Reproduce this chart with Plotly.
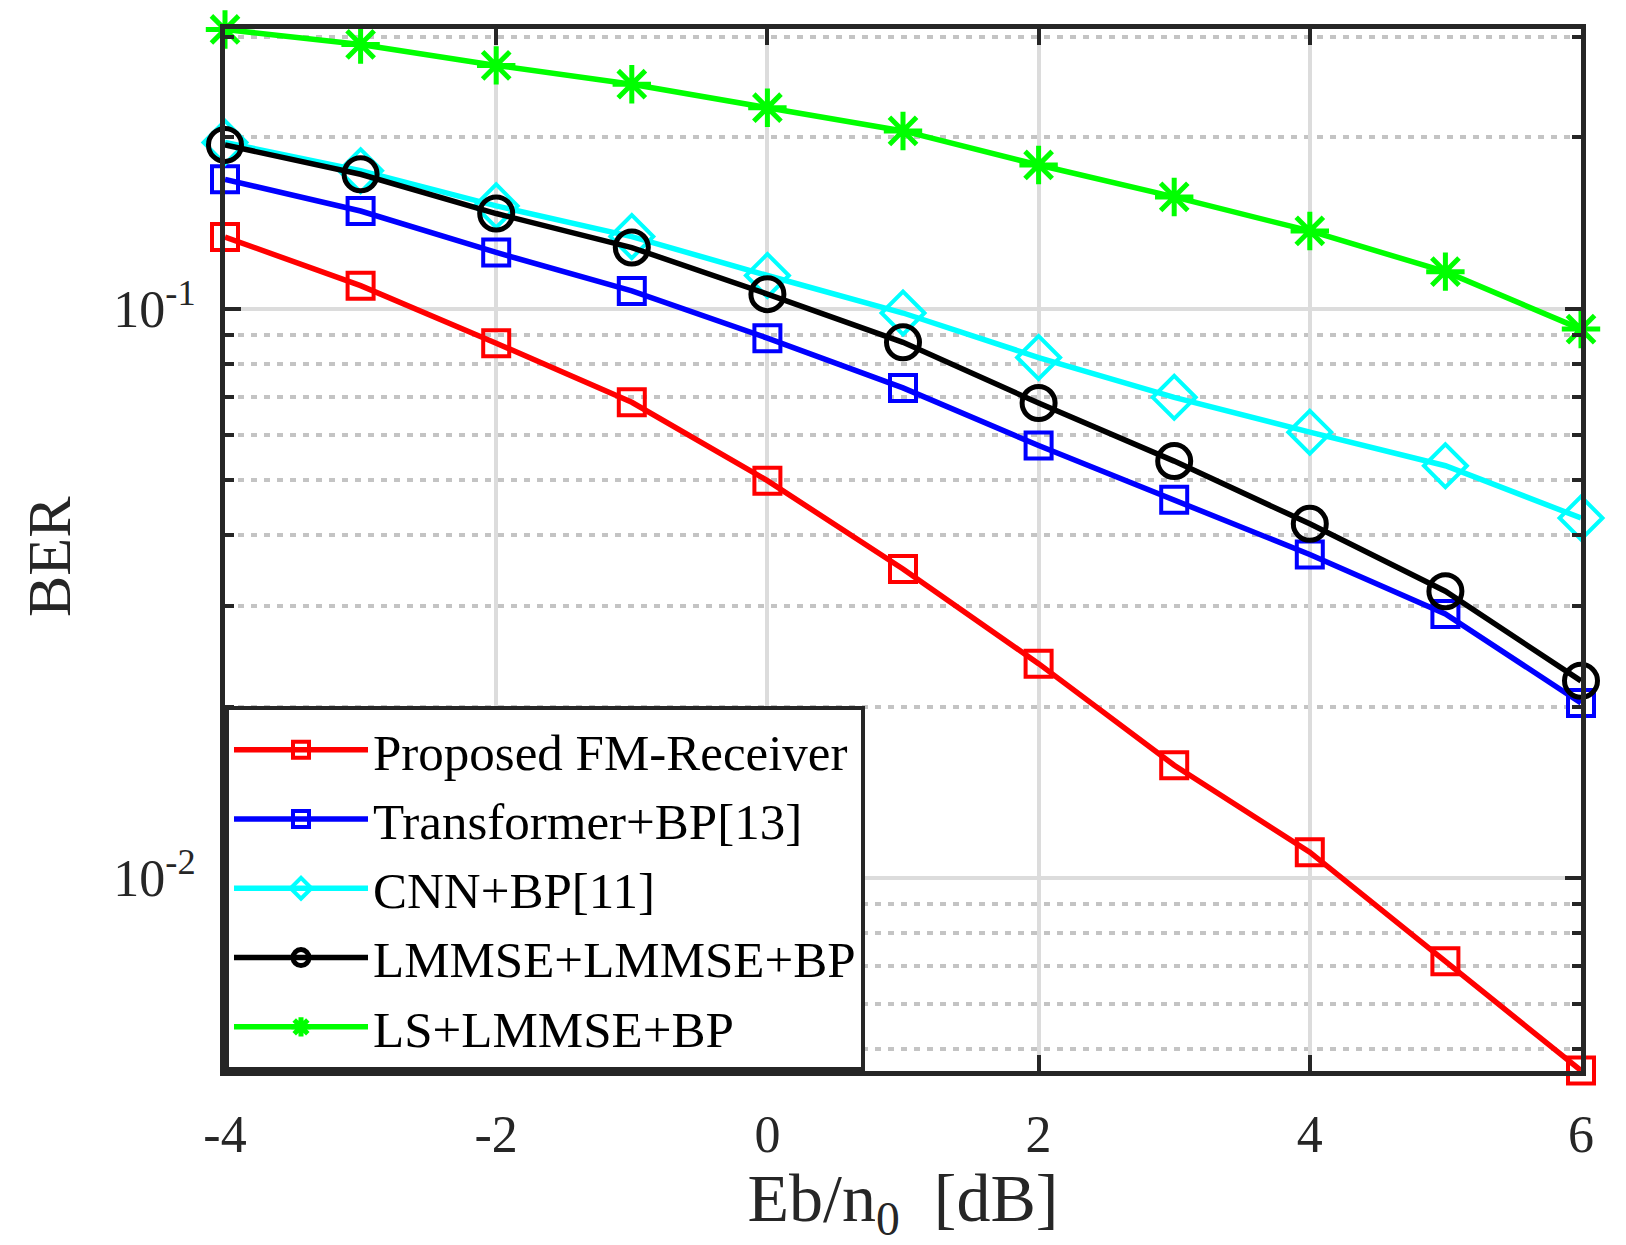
import plotly.graph_objects as go
import numpy as np

# ---------------- data ----------------
ebn0 = [-4, -3, -2, -1, 0, 1, 2, 3, 4, 5, 6]
ber_proposed = [0.1337, 0.1098, 0.0870, 0.0685, 0.0499, 0.0349, 0.0238, 0.01578, 0.0111, 0.00714, 0.00459]
ber_transformer = [0.1688, 0.1485, 0.1256, 0.1075, 0.0888, 0.0726, 0.0575, 0.0462, 0.0370, 0.0291, 0.0203]
ber_cnn = [0.1960, 0.1748, 0.1516, 0.1339, 0.1144, 0.0983, 0.0821, 0.0699, 0.0607, 0.0530, 0.0429]
ber_lmmse = [0.1940, 0.1723, 0.1470, 0.1281, 0.1061, 0.0873, 0.0683, 0.0540, 0.0419, 0.0319, 0.0222]
ber_ls = [0.3095, 0.2913, 0.2676, 0.2480, 0.2255, 0.2053, 0.1789, 0.1572, 0.1370, 0.1162, 0.0921]

series_names = ["Proposed FM-Receiver", "Transformer+BP[13]", "CNN+BP[11]",
                "LMMSE+LMMSE+BP", "LS+LMMSE+BP"]

x_tick_vals = [-4, -2, 0, 2, 4, 6]
x_tick_text = ["-4", "-2", "0", "2", "4", "6"]
y_tick_vals = [0.01, 0.1]
y_tick_text = ["10<sup>-2</sup>", "10<sup>-1</sup>"]

x_title = "Eb/n<sub>0</sub>  [dB]"
y_title = "BER"

# ---------------- styling ----------------
FONT = "Liberation Serif, Times New Roman, serif"
AX = "#262626"
styles = [
    dict(color="#FF0000", symbol="square-open", size=26, mlw=4),
    dict(color="#0000FF", symbol="square-open", size=26, mlw=4),
    dict(color="#00FFFF", symbol="diamond-open", size=33, mlw=4),
    dict(color="#000000", symbol="circle-open", size=33, mlw=5),
    dict(color="#00FF00", symbol="asterisk-open", size=32, mlw=5),
]
all_series = [ber_proposed, ber_transformer, ber_cnn, ber_lmmse, ber_ls]

fig = go.Figure()
for name, ys, st in zip(series_names, all_series, styles):
    fig.add_trace(go.Scatter(
        x=ebn0, y=ys, name=name, mode="lines+markers", cliponaxis=False,
        line=dict(color=st["color"], width=5.5),
        marker=dict(symbol=st["symbol"], size=st["size"], color=st["color"],
                    line=dict(color=st["color"], width=st["mlw"])),
    ))

all_vals = np.concatenate([np.array(s) for s in all_series])
pad = 0.0008
yr = [np.log10(all_vals.min()) - pad, np.log10(all_vals.max()) + pad]
minor_vals = [k * 10.0 ** e for e in (-3, -2, -1) for k in range(2, 10)]

fig.update_layout(
    width=1626, height=1245,
    margin=dict(l=225, r=45, t=29, b=174, autoexpand=False),
    paper_bgcolor="white", plot_bgcolor="white",
    font=dict(family=FONT, size=52, color=AX),
    showlegend=True,
    legend=dict(
        x=0, y=0, xanchor="left", yanchor="bottom", xref="paper", yref="paper",
        bgcolor="white", bordercolor=AX, borderwidth=4,
        font=dict(family=FONT, size=51, color="#000000"),
        itemwidth=134, tracegroupgap=0,
    ),
    annotations=[dict(
        text=y_title, textangle=-90, x=0, y=0.5, xref="paper", yref="paper",
        xanchor="center", yanchor="middle", xshift=-176, yshift=-7, showarrow=False,
        font=dict(family=FONT, size=62, color=AX),
    )],
)

fig.update_xaxes(
    range=[-4, 6], showline=True, linecolor=AX, linewidth=5, mirror="ticks",
    ticks="inside", ticklen=16, tickwidth=4, tickcolor=AX,
    tickvals=x_tick_vals, ticktext=x_tick_text,
    tickfont=dict(family=FONT, size=52, color=AX), ticklabelstandoff=14,
    showgrid=True, gridcolor="#dcdcdc", gridwidth=4, zeroline=False,
    title=dict(text=x_title, font=dict(family=FONT, size=68, color=AX), standoff=12),
)
fig.update_yaxes(
    type="log", range=yr, showline=True, linecolor=AX, linewidth=5, mirror="ticks",
    ticks="inside", ticklen=16, tickwidth=4, tickcolor=AX,
    tickvals=y_tick_vals, ticktext=y_tick_text,
    tickfont=dict(family=FONT, size=52, color=AX), ticklabelstandoff=14,
    showgrid=True, gridcolor="#dcdcdc", gridwidth=4, zeroline=False,
    minor=dict(tickvals=minor_vals, ticks="inside", ticklen=9, tickwidth=4, tickcolor=AX,
               showgrid=True, gridcolor="#c4c4c4", gridwidth=4, griddash="6px,7px"),
)

fig.write_html("out.html")
